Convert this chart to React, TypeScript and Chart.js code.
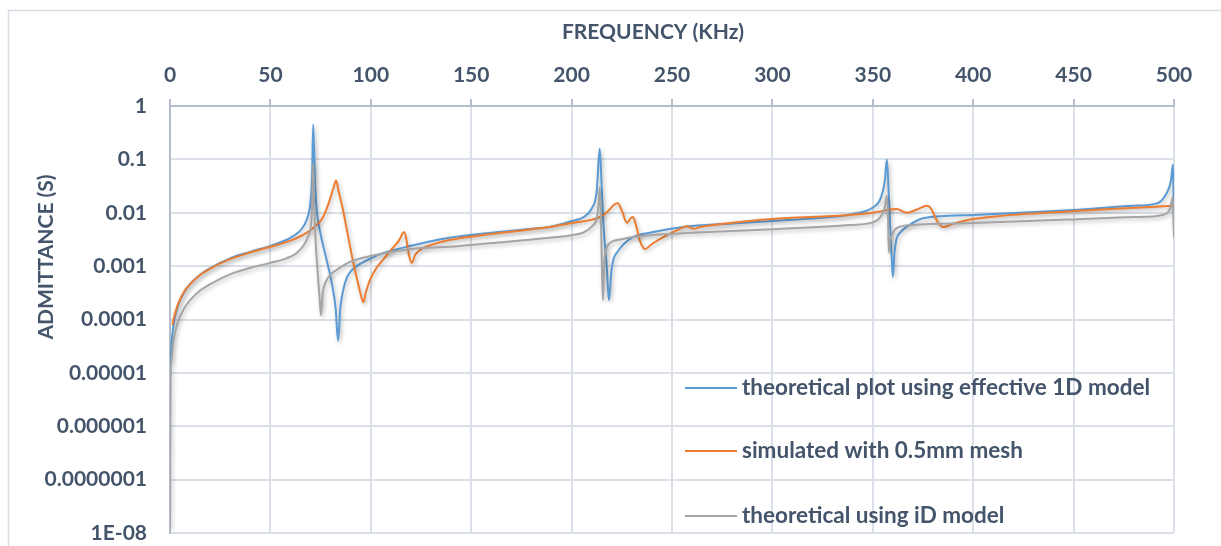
import React, { useEffect, useRef } from 'react';
import { Chart, registerables } from 'chart.js';

Chart.register(...registerables);

const xTickLabels = ['0', '50', '100', '150', '200', '250', '300', '350', '400', '450', '500'];
const yTickValues = [1e-8, 1e-7, 1e-6, 1e-5, 1e-4, 1e-3, 1e-2, 1e-1, 1];
const yTickLabels = ['1E-08', '0.0000001', '0.000001', '0.00001', '0.0001', '0.001', '0.01', '0.1', '1'];

const seriesNames = [
  'theoretical plot using effective 1D model',
  'simulated with 0.5mm mesh',
  'theoretical using iD model',
];
const seriesColors = ['#5b9bd5', '#ed7d31', '#a5a5a5'];

// [frequency kHz, admittance S]
const effective1D: [number, number][] = [
  [0.3, 1.5e-5], [0.6, 2.8e-5], [1, 4.6e-5], [2, 9e-5], [4, 1.85e-4], [7, 3.2e-4], [10, 4.6e-4],
  [15, 6.9e-4], [20, 9.2e-4], [30, 1.4e-3], [40, 1.85e-3], [50, 2.4e-3], [55, 2.8e-3], [60, 3.4e-3],
  [64, 4.3e-3], [67, 6e-3], [69, 9.5e-3], [70, 1.6e-2], [70.8, 5e-2], [71.3, 0.45], [72.3, 0.03],
  [73.2, 0.01], [75, 4e-3], [78, 1.3e-3], [80.5, 5e-4], [82.5, 1.6e-4], [83.7, 4e-5], [84.8, 1.6e-4],
  [86, 3.2e-4], [88, 6e-4], [90, 8e-4], [93, 1e-3], [100, 1.4e-3], [106, 1.75e-3], [120, 2.4e-3],
  [139, 3.4e-3], [160, 4.2e-3], [180, 5e-3], [189, 5.4e-3], [200, 7e-3], [206, 8.3e-3], [210, 1.2e-2],
  [212.5, 2.5e-2], [214, 0.16], [215, 3e-2], [216, 5e-3], [217.5, 1e-3], [218.6, 2.3e-4], [219.8, 8e-4],
  [221, 1.4e-3], [222.6, 1.8e-3], [226, 2.6e-3], [230.6, 3.5e-3], [240, 4.3e-3], [255.5, 5.4e-3],
  [280, 6.3e-3], [310, 7.4e-3], [328.7, 8.3e-3], [340, 9.5e-3], [350, 1.25e-2], [354, 1.9e-2],
  [356, 4e-2], [357, 0.1], [357.8, 3e-2], [358.6, 6e-3], [359.3, 1.8e-3], [360, 6.3e-4], [360.8, 1.8e-3],
  [361.8, 3.2e-3], [363.5, 4.2e-3], [368, 5.8e-3], [375, 7.9e-3], [400, 9.1e-3], [450, 1.12e-2],
  [480, 1.35e-2], [491.5, 1.5e-2], [496, 2.2e-2], [498.5, 4e-2], [499.5, 0.08], [500, 6e-3],
];

const simulatedMesh: [number, number][] = [
  [1.2, 8e-5], [2, 1.1e-4], [4, 1.95e-4], [7, 3.3e-4], [10, 4.6e-4], [15, 6.8e-4], [20, 9e-4],
  [30, 1.35e-3], [40, 1.8e-3], [50, 2.3e-3], [60, 3e-3], [68, 4.2e-3], [72, 5.5e-3], [76, 8e-3],
  [79, 1.5e-2], [81.5, 3e-2], [82.7, 4e-2], [84, 2.5e-2], [86, 1.2e-2], [88, 5e-3], [91, 1.3e-3],
  [93.5, 5e-4], [95.5, 2.5e-4], [96.3, 2.1e-4], [97.5, 3.2e-4], [99.6, 5.5e-4], [103, 9.5e-4],
  [106, 1.3e-3], [110, 2e-3], [114, 3e-3], [116.5, 4.3e-3], [117.5, 3.5e-3], [119, 1.6e-3],
  [120.5, 1.15e-3], [122, 1.6e-3], [124.5, 2e-3], [130, 2.5e-3], [139, 3.1e-3], [160, 4e-3],
  [189, 5.4e-3], [200, 6.4e-3], [214, 8.3e-3], [218, 1.05e-2], [221, 1.4e-2], [223, 1.5e-2],
  [225, 1.1e-2], [227.6, 6.5e-3], [229.5, 8e-3], [230.6, 8.3e-3], [232, 6e-3], [234, 3e-3],
  [236.6, 2.1e-3], [240, 2.6e-3], [247.5, 3.8e-3], [254, 5e-3], [257.5, 5.6e-3], [260.5, 5e-3],
  [264, 5.4e-3], [280, 6.5e-3], [300, 7.6e-3], [338.6, 9.1e-3], [350, 1e-2], [357, 1.12e-2],
  [362, 1.18e-2], [365, 1.05e-2], [367, 1e-2], [372, 1.15e-2], [377, 1.35e-2], [379, 1.2e-2],
  [382, 7e-3], [385, 5.4e-3], [390, 6.2e-3], [400, 7.6e-3], [450, 1.07e-2], [500, 1.35e-2],
];

const theoretical1D: [number, number][] = [
  [0, 1.2e-8], [0.3, 7e-6], [0.8, 1.8e-5], [1.5, 3.5e-5], [2.5, 5.7e-5], [4, 9e-5], [7, 1.6e-4],
  [10, 2.3e-4], [15, 3.5e-4], [20, 4.6e-4], [31, 7.3e-4], [40, 9.3e-4], [50, 1.15e-3], [58, 1.4e-3],
  [63, 1.75e-3], [67, 2.6e-3], [69, 3.8e-3], [70, 5e-3], [70.7, 1.2e-2], [71.3, 0.085], [71.8, 1.5e-2],
  [72.5, 3e-3], [73.5, 8e-4], [74.5, 2.5e-4], [75.2, 1.2e-4], [76, 3e-4], [77, 4.5e-4], [78, 5.5e-4],
  [80, 7e-4], [84, 9e-4], [89.6, 1.2e-3], [100, 1.55e-3], [120, 2.1e-3], [139, 2.3e-3], [160, 2.7e-3],
  [189, 3.4e-3], [200, 3.8e-3], [206, 4.3e-3], [210, 5.5e-3], [212.5, 8e-3], [213.5, 1.5e-2],
  [214, 0.03], [214.6, 8e-3], [215.1, 1e-3], [215.6, 2.3e-4], [216.3, 1.2e-3], [217.5, 2.2e-3],
  [219, 2.7e-3], [225, 3.2e-3], [239, 3.8e-3], [260, 4.2e-3], [300, 4.9e-3], [338.6, 5.9e-3],
  [350, 6.6e-3], [354, 8.5e-3], [356, 1.3e-2], [357, 2.1e-2], [357.6, 8e-3], [358, 1.8e-3],
  [358.7, 3e-3], [360, 4.2e-3], [362, 5.2e-3], [370, 5.9e-3], [400, 6.4e-3], [450, 7.5e-3],
  [480, 8.3e-3], [494.5, 9.1e-3], [498, 1.2e-2], [499.5, 2e-2], [500, 3.5e-3],
];

const TEXT = '#44546a';
const FONT = 'Lato, "Open Sans", sans-serif';

const framePlugin = {
  id: 'frame',
  beforeDraw(chart: any) {
    const c = chart.ctx;
    c.save();
    c.fillStyle = '#ffffff';
    c.fillRect(0, 0, chart.width, chart.height);
    c.strokeStyle = '#d9dde3';
    c.lineWidth = 1.5;
    c.strokeRect(8.5, 10.5, 1400, 800);
    c.restore();
  },
};

const shadowPlugin = {
  id: 'lineShadow',
  beforeDatasetsDraw(chart: any) {
    const c = chart.ctx;
    c.save();
    c.shadowColor = 'rgba(0,0,0,0.28)';
    c.shadowBlur = 4;
    c.shadowOffsetX = 1.5;
    c.shadowOffsetY = 2;
  },
  afterDatasetsDraw(chart: any) {
    chart.ctx.restore();
  },
};

const textPlugin = {
  id: 'texts',
  afterDraw(chart: any) {
    const c = chart.ctx;
    c.save();
    c.fillStyle = TEXT;
    c.font = `bold 21px ${FONT}`;
    c.textAlign = 'center';
    c.textBaseline = 'alphabetic';
    c.fillText('FREQUENCY (KHz)', 653, 38.5);
    c.save();
    c.translate(53, 257);
    c.rotate(-Math.PI / 2);
    c.fillText('ADMITTANCE (S)', 0, 0);
    c.restore();
    // legend
    const lineY = [388, 451, 516];
    c.textAlign = 'left';
    c.font = `bold 22.5px ${FONT}`;
    for (let i = 0; i < seriesNames.length; i++) {
      c.strokeStyle = seriesColors[i];
      c.lineWidth = 2;
      c.beginPath();
      c.moveTo(685, lineY[i]);
      c.lineTo(737, lineY[i]);
      c.stroke();
      c.fillStyle = TEXT;
      c.fillText(seriesNames[i], 742, lineY[i] + 7);
    }
    c.restore();
  },
};

export default function App() {
  const ref = useRef<HTMLCanvasElement>(null);
  useEffect(() => {
    const canvas = ref.current;
    if (!canvas) return;
    const series = [effective1D, simulatedMesh, theoretical1D];
    const chart = new Chart(canvas, {
      type: 'line',
      data: {
        datasets: series.map((s, i) => ({
          label: seriesNames[i],
          data: s.map(([x, y]) => ({ x, y })),
          borderColor: seriesColors[i],
          backgroundColor: seriesColors[i],
          borderWidth: 2,
          pointRadius: 0,
          cubicInterpolationMode: 'monotone' as const,
          fill: false,
          order: 3 - i,
        })),
      },
      options: {
        responsive: false,
        animation: false,
        devicePixelRatio: 1,
        layout: { padding: { left: 0, top: 0, right: 47, bottom: 13 } },
        plugins: { legend: { display: false }, tooltip: { enabled: false }, title: { display: false } },
        scales: {
          x: {
            type: 'linear',
            position: 'top',
            min: 0,
            max: 500,
            afterFit(scale: any) {
              scale.height = 106;
              scale.paddingLeft = 0;
              scale.paddingRight = 0;
            },
            afterBuildTicks(scale: any) {
              scale.ticks = xTickLabels.map((l) => ({ value: Number(l) }));
            },
            ticks: {
              padding: 11,
              color: TEXT,
              font: { family: FONT, size: 21, weight: 'bold' },
              maxRotation: 0,
              autoSkip: false,
              callback: (_v: any, i: number) => xTickLabels[i],
            },
            grid: { color: '#dbe0e8', lineWidth: 2, tickLength: 7, tickColor: '#b4bdcc', drawTicks: true },
            border: { color: '#b4bdcc', width: 2 },
          },
          y: {
            type: 'logarithmic',
            min: 1e-8,
            max: 1,
            afterFit(scale: any) {
              scale.width = 170;
              scale.paddingTop = 0;
              scale.paddingBottom = 0;
            },
            afterBuildTicks(scale: any) {
              scale.ticks = yTickValues.map((v) => ({ value: v }));
            },
            ticks: {
              padding: 23,
              color: TEXT,
              font: { family: FONT, size: 21, weight: 'bold' },
              autoSkip: false,
              callback: (_v: any, i: number) => yTickLabels[i],
            },
            grid: { color: '#dbe0e8', lineWidth: 2, drawTicks: false },
            border: { color: '#b4bdcc', width: 2 },
          },
        },
      },
      plugins: [framePlugin, shadowPlugin, textPlugin],
    } as any);
    return () => chart.destroy();
  }, []);
  return (
    <div style={{ position: 'absolute', left: 0, top: 0, width: 1221, height: 546, background: '#fff' }}>
      <canvas ref={ref} width={1221} height={546} style={{ display: 'block', width: 1221, height: 546 }} />
    </div>
  );
}
